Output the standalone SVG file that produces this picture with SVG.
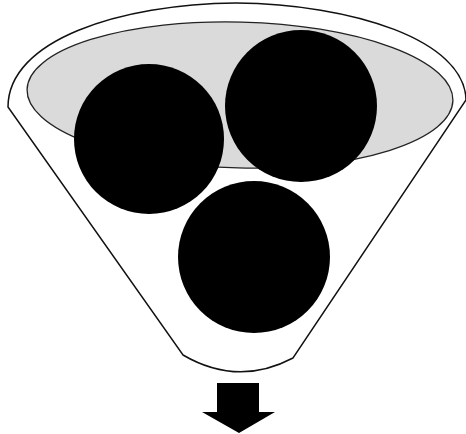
<svg xmlns="http://www.w3.org/2000/svg" width="466" height="434" viewBox="0 0 466 434">
<style>
.outline{fill:#ffffff;stroke:#111111;stroke-width:1.5}
.rim{fill:#dadada;stroke:#222222;stroke-width:1.3}
.ball{fill:#000000}
</style>
<rect width="466" height="434" fill="#ffffff"/>
<g id="funnel">
<path class="outline" d="M 8,107 C 8,40 120,4 236,3 C 352,4 465,40 466,100 L 293,358 Q 238,387 183,355 Z"/>
<ellipse class="rim" cx="240" cy="95" rx="213" ry="73" transform="rotate(1.5 240 95)"/>
</g>
<g id="ball-left"><circle class="ball" cx="149" cy="139" r="75"/></g>
<g id="ball-right"><circle class="ball" cx="301" cy="106" r="76"/></g>
<g id="ball-bottom"><circle class="ball" cx="254" cy="257" r="76"/></g>
<g id="arrow"><polygon fill="#000000" points="217,383 259,383 259,412 275,412 239,433 202,412 217,412"/></g>
</svg>
